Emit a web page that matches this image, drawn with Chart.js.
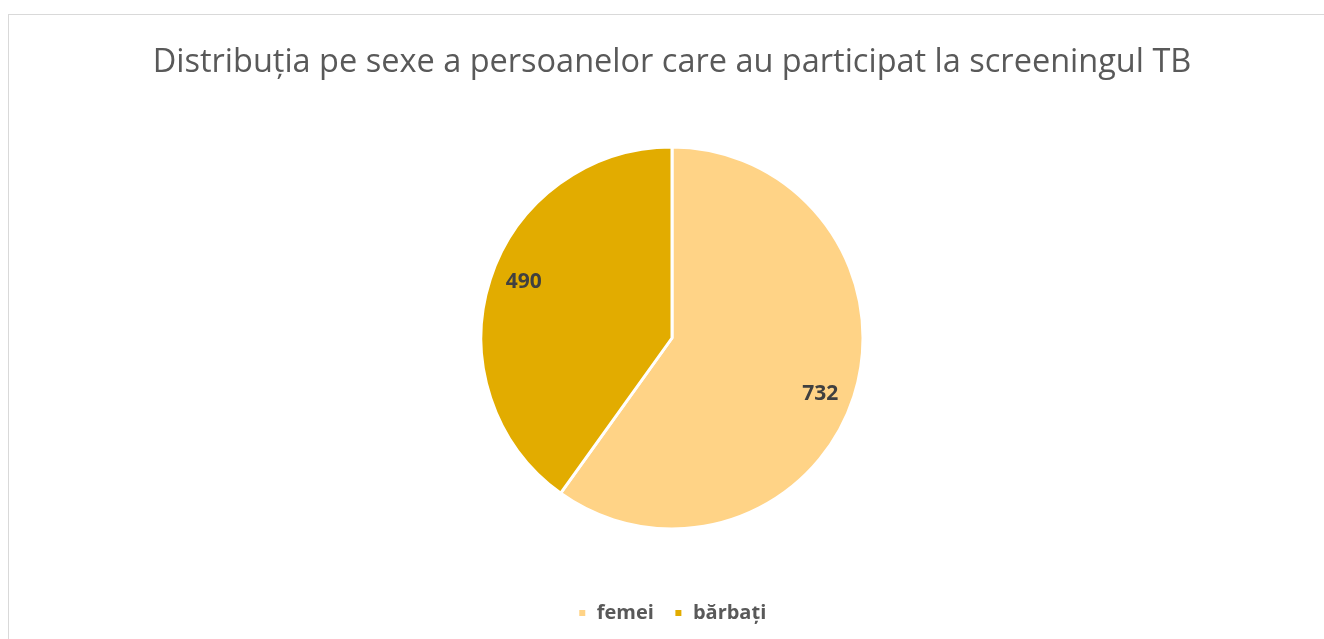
<!DOCTYPE html>
<html>
<head>
<meta charset="utf-8">
<script src="https://cdn.jsdelivr.net/npm/chart.js@4/dist/chart.umd.min.js"></script>
<style>
    html, body { margin: 0; padding: 0; background: #fff; overflow: hidden; }
    #frame {
        position: absolute; left: 8px; top: 14px;
        width: 1340px; height: 660px;
        border: 1px solid #d9d9d9; box-sizing: border-box;
    }
    #wrap { position: absolute; left: 0; top: 0; width: 1324px; height: 639px; }
</style>
</head>
<body>
<div id="frame"></div>
<div id="wrap"><canvas id="canvas1"></canvas></div>
<script>
    let labels = ['femei', 'bărbați'];
    let values = [732, 490];
    let colors = ['#FFD386', '#E2AC00'];
    let titleText = 'Distribuția pe sexe a persoanelor care au participat la screeningul TB';

    // value labels inside the slices (Excel style)
    let sliceLabels = {
        id: 'sliceLabels',
        afterDatasetsDraw(chart) {
            let ctx = chart.ctx;
            let meta = chart.getDatasetMeta(0);
            ctx.save();
            ctx.font = 'bold 21px "Open Sans"';
            ctx.fillStyle = '#404040';
            ctx.textAlign = 'center';
            ctx.textBaseline = 'middle';
            meta.data.forEach((arc, i) => {
                let mid = (arc.startAngle + arc.endAngle) / 2 + 0.05;
                let r = arc.outerRadius * 0.83;
                ctx.fillText(String(values[i]), arc.x + Math.cos(mid) * r, arc.y + Math.sin(mid) * r);
            });
            ctx.restore();
        }
    };

    let data = {
        labels: labels,
        datasets: [{
            data: values,
            backgroundColor: colors,
            borderColor: '#ffffff',
            borderWidth: 3
        }]
    };

    let config = {
        type: 'pie',
        data: data,
        options: {
            responsive: true,
            maintainAspectRatio: false,
            animation: false,
            radius: 191,
            layout: { padding: { top: 0, bottom: 6, left: 20 } },
            plugins: {
                title: {
                    display: true,
                    text: titleText,
                    color: '#595959',
                    font: { family: '"Open Sans"', size: 32.5, weight: 'normal' },
                    padding: { top: 43, bottom: 11 }
                },
                legend: {
                    position: 'bottom',
                    labels: {
                        color: '#595959',
                        font: { family: '"Open Sans"', size: 20, weight: 'bold' },
                        boxWidth: 9,
                        boxHeight: 9,
                        padding: 20
                    }
                },
                tooltip: { enabled: false }
            }
        },
        plugins: [sliceLabels]
    };

    let myChart = new Chart(document.getElementById('canvas1'), config);
</script>
</body>
</html>
